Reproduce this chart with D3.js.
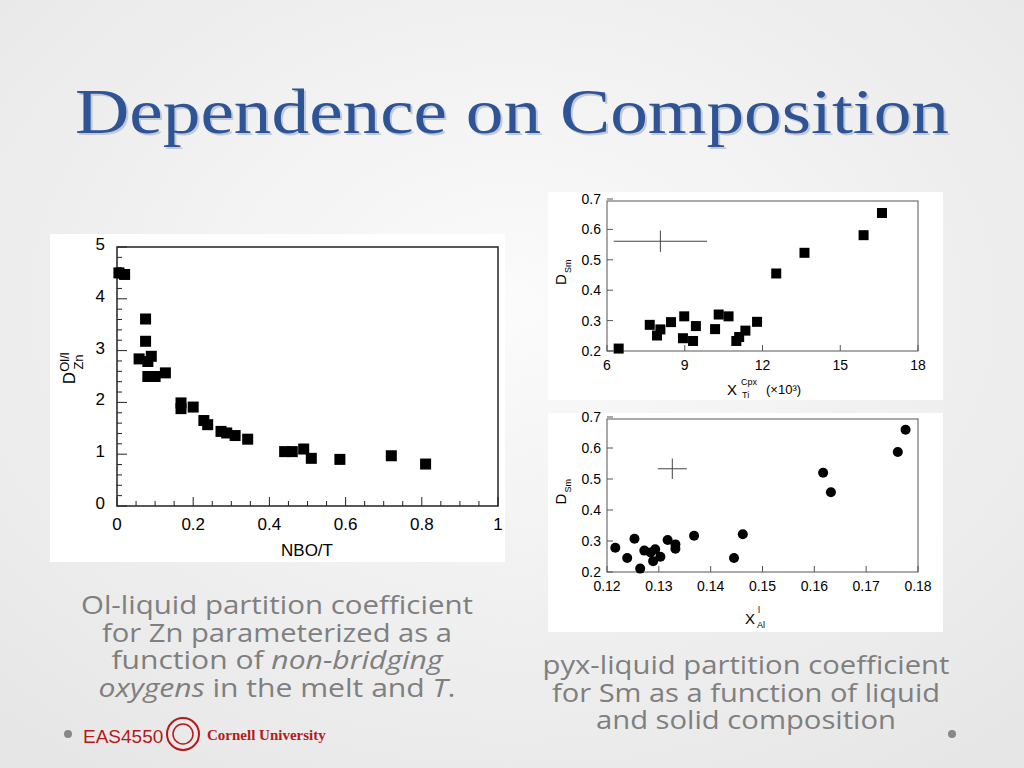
<!DOCTYPE html>
<html><head><meta charset="utf-8">
<script src="https://cdn.jsdelivr.net/npm/d3@7"></script>
<style>body{margin:0;overflow:hidden}</style>
</head><body>
<svg id="slide" width="1024" height="768"></svg>
<script>
// left chart: olivine/liquid D_Zn vs NBO/T
const nboT = [0.005,0.02,0.075,0.075,0.058,0.081,0.09,0.081,0.1,0.127,0.168,0.168,0.2,0.228,0.238,0.273,0.288,0.31,0.343,0.44,0.46,0.49,0.51,0.585,0.72,0.81];
const dZn  = [4.5,4.47,3.61,3.18,2.84,2.79,2.89,2.5,2.5,2.57,1.99,1.88,1.91,1.65,1.57,1.44,1.41,1.36,1.29,1.05,1.05,1.1,0.92,0.9,0.97,0.81];

// top right: D_Sm vs X_Ti cpx (x10^3)
const xTi  = [6.45,7.65,7.93,8.06,8.47,8.98,8.93,9.32,9.43,10.17,10.31,10.69,10.99,11.1,11.34,11.79,12.53,13.62,15.9,16.61];
const dSmA = [0.208,0.286,0.251,0.271,0.295,0.314,0.242,0.233,0.282,0.272,0.320,0.314,0.233,0.246,0.267,0.296,0.455,0.523,0.581,0.654];
const errA = {x: 8.06, y: 0.561, dx: 1.8, dy: 0.035};

// bottom right: D_Sm vs X_Al liquid
const xAl  = [0.1216,0.1239,0.1253,0.1264,0.1272,0.1284,0.1293,0.1289,0.1303,0.1317,0.1332,0.1332,0.1368,0.1445,0.1462,0.1617,0.1632,0.1761,0.1776];
const dSmB = [0.278,0.245,0.307,0.211,0.269,0.263,0.273,0.235,0.249,0.303,0.289,0.275,0.317,0.245,0.322,0.520,0.457,0.587,0.659];
const errB = {x: 0.1326, y: 0.533, dx: 0.0028, dy: 0.033};

const svg = d3.select("#slide");
const defs = svg.append("defs");
const grad = defs.append("radialGradient").attr("id", "bg").attr("cx", "50%").attr("cy", "40%").attr("r", "75%");
grad.append("stop").attr("offset", "0%").attr("stop-color", "#fbfbfb");
grad.append("stop").attr("offset", "100%").attr("stop-color", "#e6e6e6");
svg.append("rect").attr("width", 1024).attr("height", 768).attr("fill", "url(#bg)");

// title with faint shadow
[["#c3cad6", 2], ["#2f5496", 0]].forEach(([c, o]) =>
  svg.append("text").attr("x", 75 + o).attr("y", 133 + o)
    .attr("font-family", "Liberation Serif, serif").attr("font-size", 64)
    .attr("textLength", 874).attr("lengthAdjust", "spacingAndGlyphs")
    .attr("fill", c).text("Dependence on Composition"));

// ---------- left chart ----------
svg.append("rect").attr("x", 50).attr("y", 234).attr("width", 455).attr("height", 328).attr("fill", "#fff");
const x1 = d3.scaleLinear().domain([0, 1]).range([117, 498]);
const y1 = d3.scaleLinear().domain([0, 5]).range([506, 247]);
const g1 = svg.append("g").attr("font-family", "Liberation Sans, Arial, sans-serif");
g1.append("rect").attr("x", 117).attr("y", 247).attr("width", 381).attr("height", 259)
  .attr("fill", "none").attr("stroke", "#222").attr("stroke-width", 1.5);
g1.selectAll(".xt").data(d3.range(0, 1.001, 0.05)).join("line")
  .attr("x1", d => x1(d)).attr("x2", d => x1(d))
  .attr("y1", 506).attr("y2", (d, i) => 506 - (i % 4 === 0 ? 9 : 5)).attr("stroke", "#222");
g1.selectAll(".yt").data(d3.range(0, 5.001, 0.2)).join("line")
  .attr("y1", d => y1(d)).attr("y2", d => y1(d))
  .attr("x1", 117).attr("x2", (d, i) => 117 + (i % 5 === 0 ? 10 : 5)).attr("stroke", "#222");
g1.selectAll(".xl").data([0, 0.2, 0.4, 0.6, 0.8, 1]).join("text")
  .attr("x", d => x1(d)).attr("y", 530).attr("text-anchor", "middle").attr("font-size", 17)
  .text(d => d === 0 || d === 1 ? d : d.toFixed(1));
g1.selectAll(".yl").data([0, 1, 2, 3, 4, 5]).join("text")
  .attr("x", 105).attr("y", d => y1(d) + 3).attr("text-anchor", "end").attr("font-size", 17).text(d => d);
g1.append("text").attr("x", 307).attr("y", 556).attr("text-anchor", "middle").attr("font-size", 17).text("NBO/T");
const yt1 = g1.append("g").attr("transform", "translate(75,378) rotate(-90)");
yt1.append("text").attr("x", 0).attr("y", 0).attr("text-anchor", "middle").attr("font-size", 17).text("D");
yt1.append("text").attr("x", 16).attr("y", -6).attr("text-anchor", "middle").attr("font-size", 13).text("Ol/l");
yt1.append("text").attr("x", 16).attr("y", 8).attr("text-anchor", "middle").attr("font-size", 13).text("Zn");
g1.selectAll(".pt").data(nboT).join("rect")
  .attr("x", (d, i) => x1(d) - 5.5).attr("y", (d, i) => y1(dZn[i]) - 5.5)
  .attr("width", 11).attr("height", 11).attr("fill", "#000");

// ---------- right charts ----------
function smallChart(opt) {
  svg.append("rect").attr("x", 548).attr("y", opt.top).attr("width", 395).attr("height", opt.h).attr("fill", "#fff");
  const x = d3.scaleLinear().domain(opt.xd).range([607, 918]);
  const y = d3.scaleLinear().domain([0.2, 0.7]).range([opt.py1, opt.py0]);
  const g = svg.append("g").attr("font-family", "Liberation Sans, Arial, sans-serif").attr("font-size", 14);
  g.append("rect").attr("x", 607).attr("y", opt.py0 + 2).attr("width", 311).attr("height", opt.py1 - opt.py0 - 2)
    .attr("fill", "none").attr("stroke", "#555").attr("stroke-width", 1);
  g.selectAll(".xt").data(opt.xt).join("line")
    .attr("x1", d => x(d)).attr("x2", d => x(d)).attr("y1", opt.py1).attr("y2", opt.py1 - 6).attr("stroke", "#555");
  g.selectAll(".yt").data(d3.range(0.2, 0.701, 0.1)).join("line")
    .attr("y1", d => y(d)).attr("y2", d => y(d)).attr("x1", 607).attr("x2", 613).attr("stroke", "#555");
  g.selectAll(".xl").data(opt.xt).join("text")
    .attr("x", d => x(d)).attr("y", opt.py1 + 19).attr("text-anchor", "middle").text(opt.fmt);
  g.selectAll(".yl").data(d3.range(0.2, 0.701, 0.1)).join("text")
    .attr("x", 601).attr("y", d => y(d) + 5).attr("text-anchor", "end").text(d => d.toFixed(1));
  const yt = g.append("g").attr("transform", `translate(566,${(opt.py0 + opt.py1) / 2 + 10}) rotate(-90)`);
  yt.append("text").attr("font-size", 15).text("D");
  yt.append("text").attr("x", 12).attr("y", 5).attr("font-size", 9).text("Sm");
  const e = opt.err;
  g.append("line").attr("x1", x(e.x - e.dx)).attr("x2", x(e.x + e.dx)).attr("y1", y(e.y)).attr("y2", y(e.y)).attr("stroke", "#444");
  g.append("line").attr("x1", x(e.x)).attr("x2", x(e.x)).attr("y1", y(e.y - e.dy)).attr("y2", y(e.y + e.dy)).attr("stroke", "#444");
  opt.xs.forEach((v, i) => {
    if (opt.square) g.append("rect").attr("x", x(v) - 5).attr("y", y(opt.ys[i]) - 5).attr("width", 10).attr("height", 10);
    else g.append("circle").attr("cx", x(v)).attr("cy", y(opt.ys[i])).attr("r", 5);
  });
  return g;
}
const gA = smallChart({top: 192, h: 208, py0: 199, py1: 351, xd: [6, 18], xt: [6, 9, 12, 15, 18],
  fmt: d => d, err: errA, xs: xTi, ys: dSmA, square: true});
gA.append("text").attr("x", 727).attr("y", 395).attr("font-size", 15).text("X");
gA.append("text").attr("x", 741).attr("y", 385).attr("font-size", 9).text("Cpx");
gA.append("text").attr("x", 742).attr("y", 398).attr("font-size", 9).text("Ti");
gA.append("text").attr("x", 766).attr("y", 394).attr("font-size", 13).text("(×10³)");

const gB = smallChart({top: 413, h: 219, py0: 417, py1: 572, xd: [0.12, 0.18], xt: [0.12, 0.13, 0.14, 0.15, 0.16, 0.17, 0.18],
  fmt: d => d.toFixed(2), err: errB, xs: xAl, ys: dSmB, square: false});
gB.append("text").attr("x", 745).attr("y", 624).attr("font-size", 15).text("X");
gB.append("text").attr("x", 758).attr("y", 613).attr("font-size", 9).text("l");
gB.append("text").attr("x", 757).attr("y", 628).attr("font-size", 9).text("Al");

// ---------- captions ----------
const cap = svg.append("g").attr("font-family", "Open Sans, sans-serif").attr("font-size", 25)
  .attr("fill", "#7f7f7f").attr("text-anchor", "middle");
const capL = [["Ol-liquid partition coefficient"], ["for Zn parameterized as a"],
  ["function of ", ["non-bridging", true]], [["oxygens", true], " in the melt and ", ["T", true], "."]];
const capLW = [392, 350, 331, 357];
capL.forEach((line, i) => {
  const t = cap.append("text").attr("x", 277).attr("y", 614 + i * 27.5)
    .attr("textLength", capLW[i]).attr("lengthAdjust", "spacingAndGlyphs");
  line.forEach(p => {
    if (typeof p === "string") t.append("tspan").text(p);
    else t.append("tspan").attr("font-style", "italic").text(p[0]);
  });
});
const capR = ["pyx-liquid partition coefficient", "for Sm as a function of liquid", "and solid composition"];
const capRW = [407, 388, 300];
capR.forEach((s, i) =>
  cap.append("text").attr("x", 746).attr("y", 674 + i * 27.5)
    .attr("textLength", capRW[i]).attr("lengthAdjust", "spacingAndGlyphs").text(s));

// ---------- footer ----------
svg.append("circle").attr("cx", 68).attr("cy", 734).attr("r", 4).attr("fill", "#888");
svg.append("circle").attr("cx", 952).attr("cy", 734).attr("r", 4).attr("fill", "#888");
svg.append("text").attr("x", 83).attr("y", 743).attr("font-family", "Liberation Sans, sans-serif")
  .attr("font-size", 19).attr("fill", "#b31b1b").text("EAS4550");
svg.append("circle").attr("cx", 183).attr("cy", 734).attr("r", 16).attr("fill", "none").attr("stroke", "#b31b1b").attr("stroke-width", 2);
svg.append("circle").attr("cx", 183).attr("cy", 734).attr("r", 10).attr("fill", "none").attr("stroke", "#b31b1b").attr("stroke-width", 1.5);
svg.append("text").attr("x", 207).attr("y", 740).attr("font-family", "Liberation Serif, serif")
  .attr("font-size", 15).attr("font-weight", "bold").attr("fill", "#b31b1b").text("Cornell University");
</script>
</body></html>
